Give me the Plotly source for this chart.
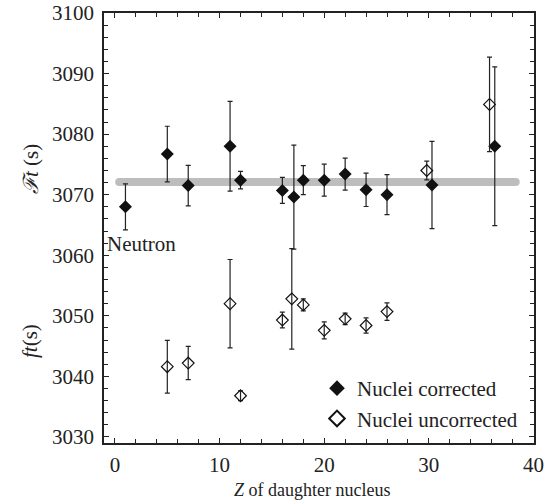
import plotly.graph_objects as go

# Corrected (filled diamonds): Z, Ft, error
z_corr = [1, 5, 7, 11, 12, 16, 17.1, 18, 20, 22, 24, 26, 30.3, 36.3]
ft_corr = [3068.0, 3076.7, 3071.5, 3078.0, 3072.4, 3070.7, 3069.6, 3072.4, 3072.4, 3073.4, 3070.8, 3070.0, 3071.6, 3078.0]
err_corr = [3.8, 4.6, 3.35, 7.4, 1.45, 2.15, 8.6, 2.4, 2.65, 2.65, 2.75, 3.3, 7.2, 13.1]

# Uncorrected (open diamonds)
z_unc = [5, 7, 11, 12, 16, 16.9, 18, 20, 22, 24, 26, 29.8, 35.8]
ft_unc = [3041.6, 3042.2, 3052.0, 3036.8, 3049.3, 3052.8, 3051.8, 3047.6, 3049.5, 3048.4, 3050.7, 3074.0, 3084.9]
err_unc = [4.35, 2.75, 7.3, 0.8, 1.3, 8.3, 1.0, 1.4, 0.95, 1.25, 1.45, 1.55, 7.8]

# Average Ft band
band_x = [0.4, 38.3]
band_value = 3072.1

FONT = "'Liberation Serif', 'DejaVu Serif', serif"

fig = go.Figure()

fig.add_trace(go.Scatter(
    x=band_x, y=[band_value] * len(band_x), mode="lines+markers",
    line=dict(color="#bdbdbd", width=8),
    marker=dict(symbol="circle", size=8, color="#bdbdbd"),
    showlegend=False, hoverinfo="skip"))

fig.add_trace(go.Scatter(
    x=z_corr, y=ft_corr, mode="markers", name="Nuclei corrected",
    marker=dict(symbol="diamond", size=10, color="#111111",
                line=dict(width=0)),
    error_y=dict(type="data", array=err_corr, visible=True,
                 color="#222222", thickness=1.2, width=2.5)))

fig.add_trace(go.Scatter(
    x=z_unc, y=ft_unc, mode="markers", name="Nuclei uncorrected",
    marker=dict(symbol="diamond-open", size=9, color="#111111",
                line=dict(width=1.2, color="#111111")),
    error_y=dict(type="data", array=err_unc, visible=True,
                 color="#222222", thickness=1.2, width=2.5)))

axis_common = dict(
    showgrid=False, zeroline=False, showline=True, linecolor="#222222",
    linewidth=1.5, mirror="allticks", ticks="inside", ticklen=5,
    tickcolor="#222222", tickwidth=1, automargin=False,
    tickfont=dict(family=FONT, size=21, color="#222222"),
)

fig.update_xaxes(
    range=[-1.05, 40.05], tickmode="linear", tick0=0, dtick=10,
    minor=dict(dtick=2, ticks="inside", ticklen=4, tickcolor="#222222", tickwidth=1),
    ticklabelstandoff=2,
    **axis_common)

fig.update_yaxes(
    range=[3029, 3100], tickmode="linear", tick0=3030, dtick=10,
    minor=dict(dtick=2, ticks="inside", ticklen=4, tickcolor="#222222", tickwidth=1),
    ticklabelstandoff=4,
    **axis_common)

fig.add_annotation(
    text="<i>Z</i> of daughter nucleus", xref="paper", yref="paper",
    x=(312 - 104) / 430, y=(443 - 490) / 430, showarrow=False,
    xanchor="center", yanchor="middle",
    font=dict(family=FONT, size=18, color="#222222"))
fig.add_annotation(
    text="<i>ℱt</i> (s)", xref="paper", yref="paper",
    x=(31 - 104) / 430, y=(443 - 169) / 430, showarrow=False, textangle=-90,
    xanchor="center", yanchor="middle",
    font=dict(family=FONT, size=21, color="#222222"))
fig.add_annotation(
    text="<i>ft</i>(s)", xref="paper", yref="paper",
    x=(30 - 104) / 430, y=(443 - 341) / 430, showarrow=False, textangle=-90,
    xanchor="center", yanchor="middle",
    font=dict(family=FONT, size=21, color="#222222"))
fig.add_annotation(
    text="Neutron", xref="paper", yref="y",
    x=0.002, y=3061.8, showarrow=False, xanchor="left", yanchor="middle",
    font=dict(family=FONT, size=21, color="#222222"))

fig.update_layout(
    width=559, height=501,
    margin=dict(l=104, r=25, t=13, b=58),
    paper_bgcolor="white", plot_bgcolor="white",
    font=dict(family=FONT, size=21, color="#222222"),
    legend=dict(x=(317 - 104) / 430, y=(443 - 368) / 430,
                xanchor="left", yanchor="top",
                bgcolor="rgba(0,0,0,0)", borderwidth=0,
                font=dict(family=FONT, size=21, color="#222222"),
                itemsizing="constant", tracegroupgap=0),
)

fig.write_html("out.html")
